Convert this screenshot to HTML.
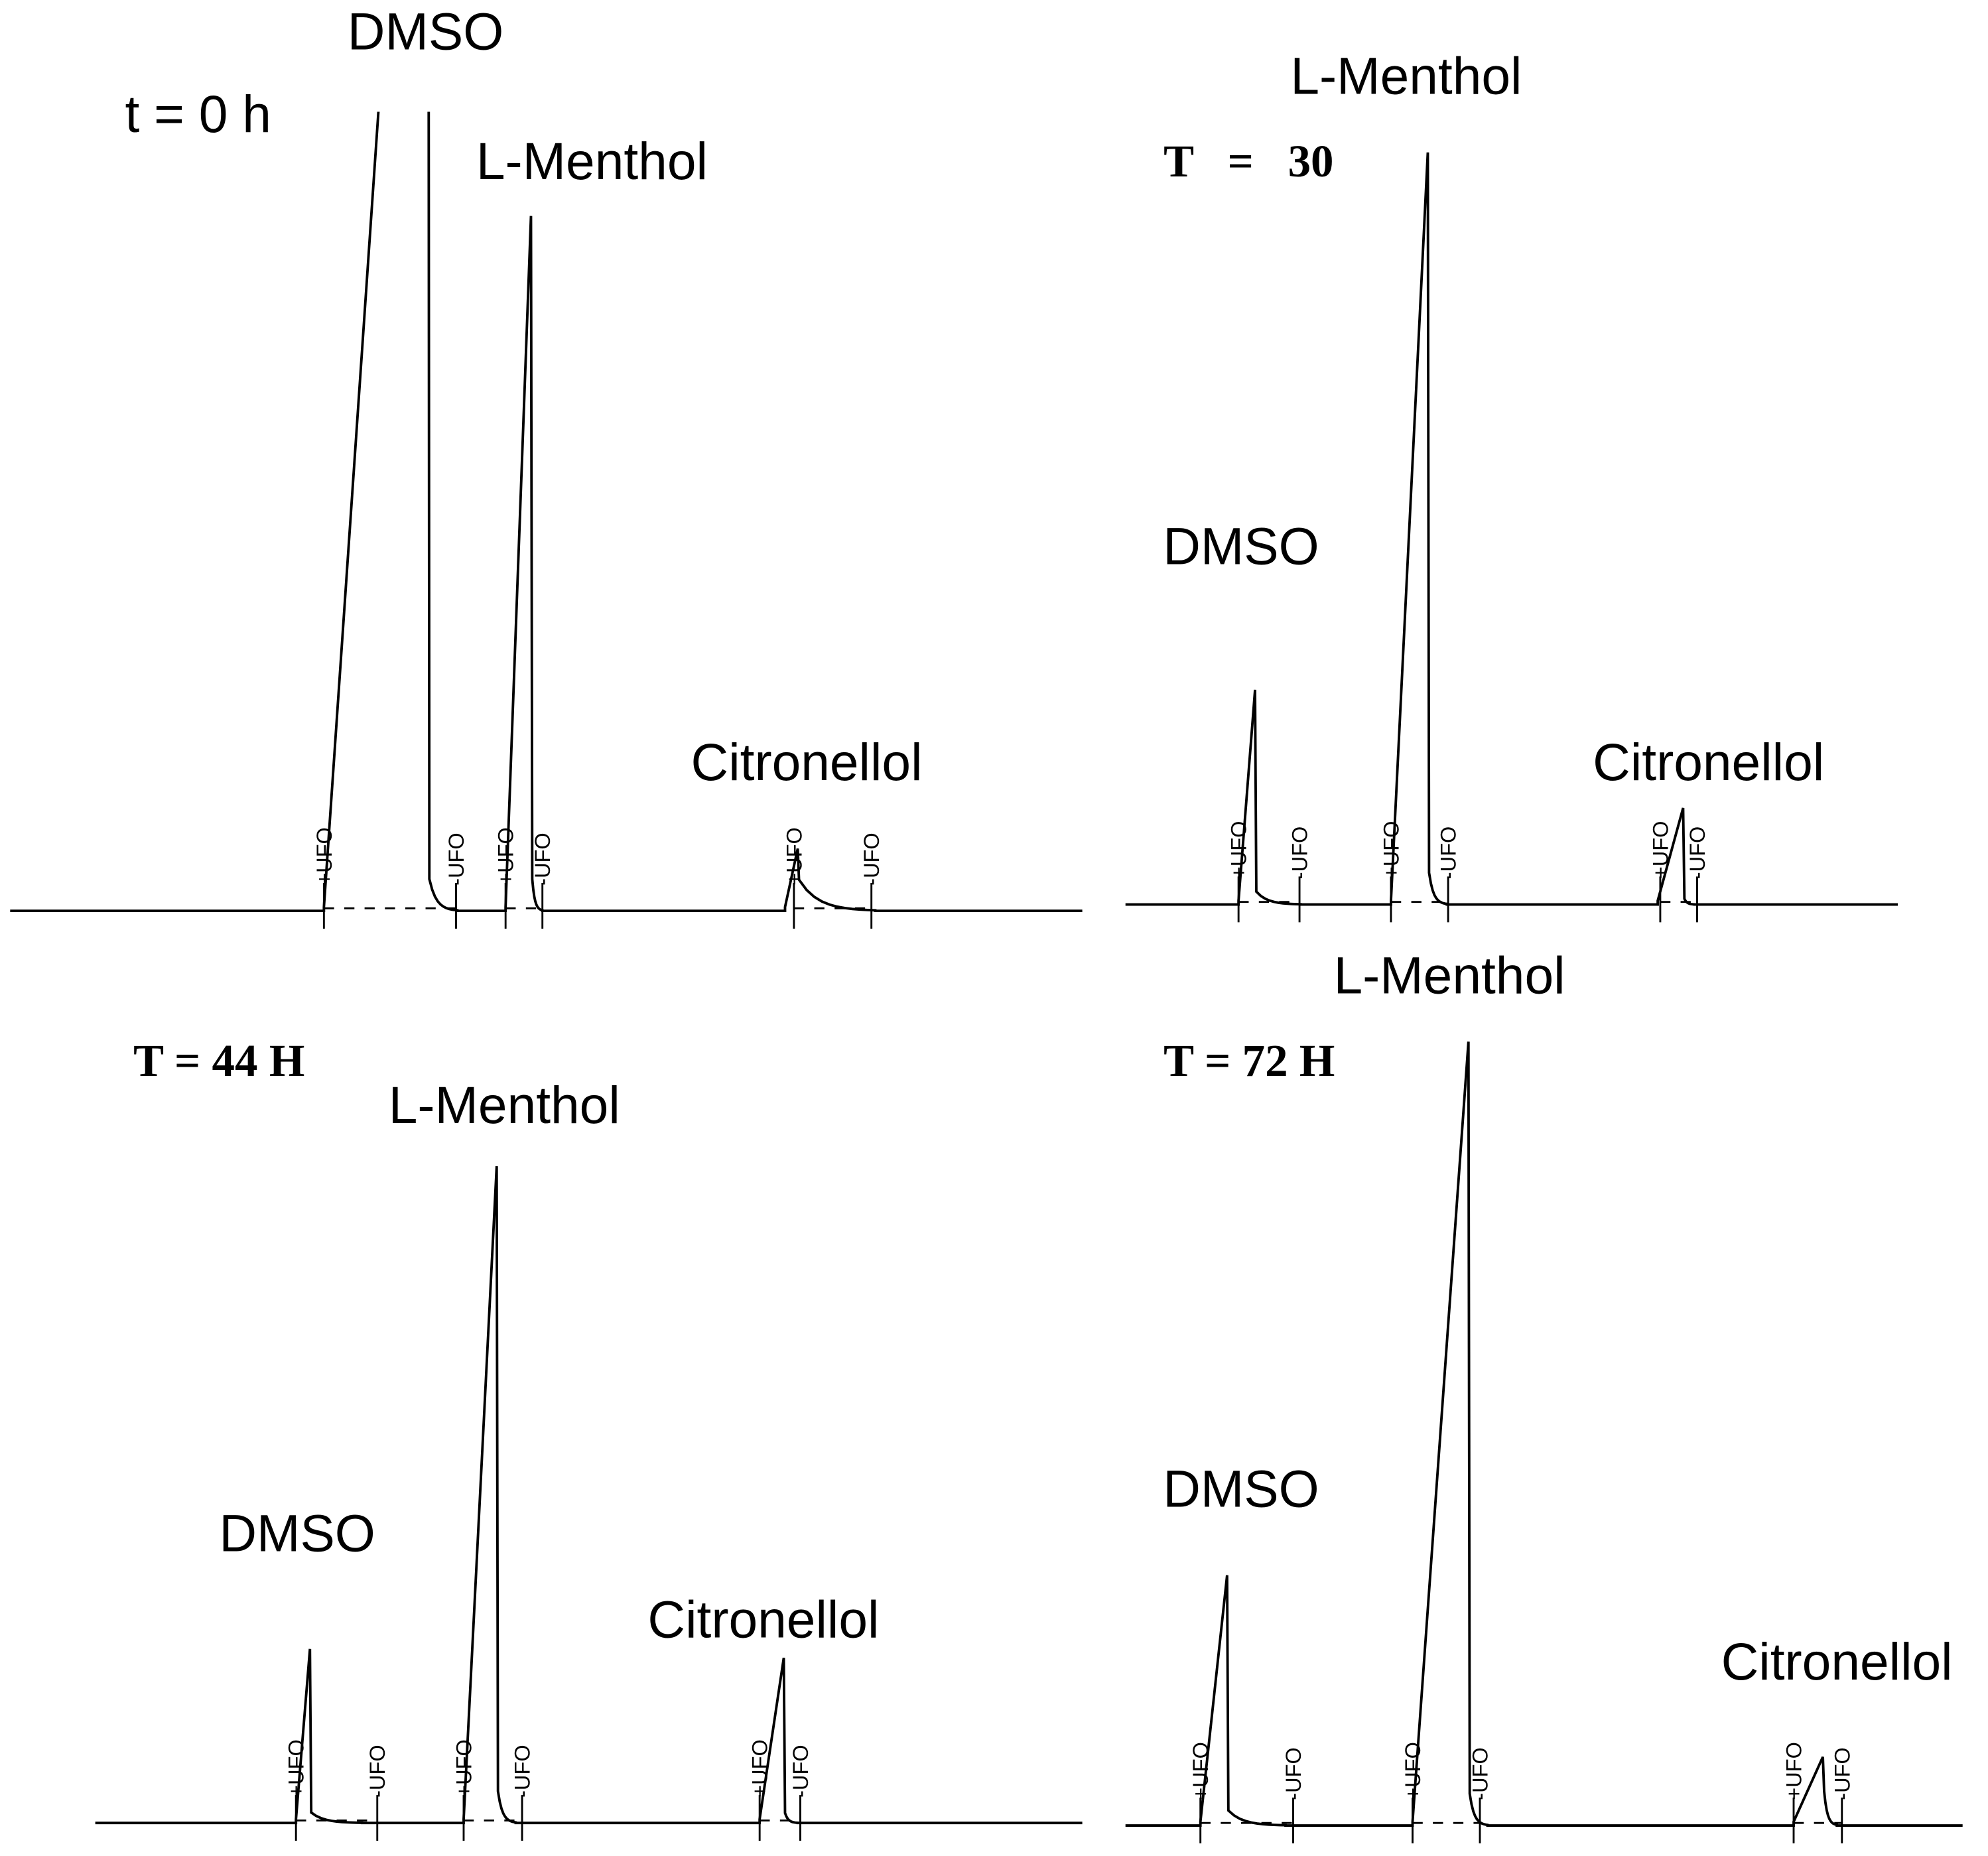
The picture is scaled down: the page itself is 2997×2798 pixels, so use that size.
<!DOCTYPE html>
<html><head><meta charset="utf-8">
<style>
html,body{margin:0;padding:0;background:#fff;}
svg{display:block;}
.lbl{font-family:"Liberation Sans",sans-serif;font-size:41px;fill:#000;}
.bold{font-family:"Liberation Serif",serif;font-weight:bold;font-size:36px;fill:#000;white-space:pre;}
.ufo{font-family:"Liberation Sans",sans-serif;font-size:17px;fill:#000;}
</style></head>
<body>
<svg id="fig" width="2997" height="2798" viewBox="0 0 1565 1461" preserveAspectRatio="none" xmlns="http://www.w3.org/2000/svg">
<g id="root"></g>
</svg>
<script>
const panelNames = ['t0','t30','t44','t72'];
const panelX0 = [8, 886, 75, 886];
const panelX1 = [852, 1494, 852, 1545];
const panelBase = [717, 712, 1435, 1437];
const panelTop = [88, 60, 800, 780];
const peakNames = ['dmso','menthol','citronellol'];
const peakStart = [[247,390,610],[89,209,419],[158,290,523],[59,226,526]];
const peakApex  = [[329,410,620],[102,238,439],[169,316,542],[80,270,549]];
const peakHeight= [[1200,547,49],[169,592,76],[137,517,130],[197,617,54]];
const peakTail  = [[22,8,60],[35,14,8],[40,14,10],[45,14,10]];
const tickPlus  = [[247,390,617],[89,209,421],[158,290,523],[59,226,526]];
const tickMinus = [[351,419,678],[137,254,450],[222,336,555],[132,279,564]];
const labelText = [
 ['DMSO',335,25,'lbl','middle'],['t = 0 h',156,90,'lbl','middle'],['L-Menthol',466,127,'lbl','middle'],['Citronellol',635,600,'lbl','middle'],
 ['L-Menthol',1107,60,'lbl','middle'],['T   =   30',916,125,'bold','start'],['DMSO',977,430,'lbl','middle'],['Citronellol',1345,600,'lbl','middle'],
 ['T = 44 H',105,833,'bold','start'],['L-Menthol',397,870,'lbl','middle'],['DMSO',234,1207,'lbl','middle'],['Citronellol',601,1275,'lbl','middle'],
 ['L-Menthol',1141,768,'lbl','middle'],['T = 72 H',916,833,'bold','start'],['DMSO',977,1172,'lbl','middle'],['Citronellol',1446,1308,'lbl','middle']
];
const NS='http://www.w3.org/2000/svg';
const root=document.getElementById('root');
function mk(tag,attrs,parent){const e=document.createElementNS(NS,tag);for(const k in attrs)e.setAttribute(k,attrs[k]);(parent||root).appendChild(e);return e;}
const defs=mk('defs',{});
panelNames.forEach((pn,p)=>{
  const xS=t=>panelX0[p]+t;
  const yS=v=>panelBase[p]-v;
  const cp=mk('clipPath',{id:'clip'+p},defs);
  mk('rect',{x:panelX0[p]-5,y:panelTop[p],width:panelX1[p]-panelX0[p]+10,height:panelBase[p]-panelTop[p]+40},cp);
  const g=mk('g',{'clip-path':'url(#clip'+p+')'});
  
  
  let pts=[[xS(0),yS(0)]];
  for(let i=0;i<3;i++){
    const s=peakStart[p][i],a=peakApex[p][i],h=peakHeight[p][i],tl=peakTail[p][i];
    pts.push([xS(s),yS(0)]);
    pts.push([xS(s),yS(3)]); pts.push([xS(a),yS(h)]);
    const drop=h<60?h*0.5:Math.min(h*0.06,25);
    pts.push([xS(a+1),yS(drop)]);
    for(let k=1;k<=10;k++){const t=a+1+tl*k/10;pts.push([xS(t),yS(drop*Math.exp(-4*k/10))]);}
    pts.push([xS(a+1+tl),yS(0)]);
  }
  pts.push([xS(panelX1[p]-panelX0[p]),yS(0)]);
  const tr=mk('polyline',{points:pts.map(q=>q.join(',')).join(' '),fill:'none',stroke:'#000','stroke-width':2},g);
  
  
  for(let i=0;i<3;i++){
    const dl=mk('line',{x1:xS(tickPlus[p][i]),x2:xS(tickMinus[p][i]),y1:yS(2),y2:yS(2),stroke:'#000','stroke-width':1.5,'stroke-dasharray':'8,8'});
    
    
  }
  [['+UFO',tickPlus[p]],['-UFO',tickMinus[p]]].forEach(([lab,arr])=>{
    arr.forEach((t,i)=>{
      const x=xS(t);
      const tk=mk('line',{x1:x,x2:x,y1:yS(-14),y2:yS(22),stroke:'#000','stroke-width':1.5});
      
      
      const tx=mk('text',{class:'ufo',x:0,y:0,transform:'translate('+(x+6)+','+yS(20)+') rotate(-90)'});
      tx.textContent=lab;
      
      
    });
  });
});
labelText.forEach(l=>{
  const t=mk('text',{class:l[3],x:l[1],y:l[2]+14,'text-anchor':l[4]});
  t.textContent=l[0];
  
  
});
</script>
</body></html>
